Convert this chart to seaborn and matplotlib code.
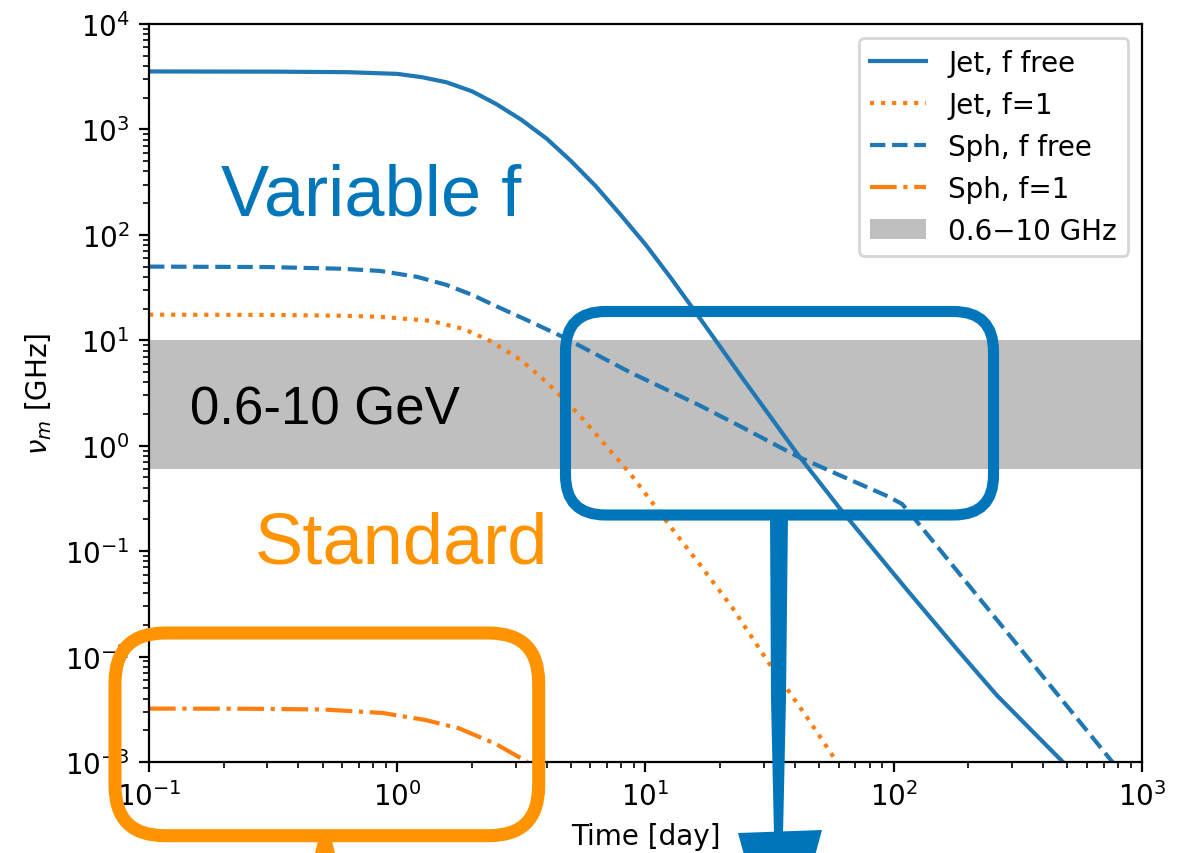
import matplotlib
matplotlib.use("Agg")
import matplotlib.pyplot as plt
from matplotlib.patches import FancyBboxPatch, Polygon
import numpy as np
import seaborn as sns

# ---- curves (time in days, nu_m in GHz) ----
t_jet_free = [0.1, 0.32, 0.63, 1.0, 1.26, 1.58, 2.0, 2.5, 3.16, 4.0, 5.0, 6.3, 7.9,
              10, 12.6, 15.8, 25, 41, 61, 113, 180, 260, 480]
nu_jet_free = [3548, 3532, 3491, 3365, 3126, 2799, 2301, 1746, 1236, 817, 504, 290, 157,
               81, 39.5, 18.9, 4.14, 0.83, 0.25, 0.043, 0.0117, 0.0043, 0.001]

t_jet_f1 = [0.1, 0.3, 0.6, 0.85, 1.36, 1.85, 2.36, 3.12, 4.0, 5.45, 7, 8.7,
            12.7, 16.6, 22.4, 31.5, 45, 59]
nu_jet_f1 = [17.5, 17.4, 17.1, 16.7, 15.3, 12.8, 9.9, 6.6, 4.0, 1.93, 0.97, 0.54,
             0.167, 0.074, 0.029, 0.0086, 0.0026, 0.001]

t_sph_free = [0.1, 0.3, 0.6, 0.85, 1.2, 1.58, 2.0, 2.51, 3.4, 4.67, 6.5, 8.67, 12,
              16.6, 25, 41, 60, 95, 108, 118, 150, 300, 760]
nu_sph_free = [50, 49.5, 47.7, 45.5, 40, 33.5, 27, 21, 15.2, 10.7, 7.1, 4.97, 3.45,
               2.4, 1.46, 0.79, 0.53, 0.33, 0.28, 0.22, 0.11, 0.0148, 0.001]

t_sph_f1 = [0.1, 0.25, 0.5, 0.87, 1.3, 1.77, 2.5, 3.35]
nu_sph_f1 = [0.00321, 0.0032, 0.00315, 0.00292, 0.0025, 0.00209, 0.00148, 0.001]

band_lo, band_hi = 0.6, 10

BLUE = "#0076BA"
ORANGE = "#FF9300"

fig = plt.figure(figsize=(5.935, 4.27), dpi=200)
ax = fig.add_axes([149 / 1187, 1 - 763 / 854, 993 / 1187, 738 / 854])
ax.set_xscale("log")
ax.set_yscale("log")

sns.lineplot(x=t_jet_free, y=nu_jet_free, ax=ax, color="tab:blue", linestyle="-",
             label="Jet, f free", estimator=None)
sns.lineplot(x=t_jet_f1, y=nu_jet_f1, ax=ax, color="tab:orange", linestyle=":",
             label="Jet, f=1", estimator=None)
sns.lineplot(x=t_sph_free, y=nu_sph_free, ax=ax, color="tab:blue", linestyle="--",
             label="Sph, f free", estimator=None)
sns.lineplot(x=t_sph_f1, y=nu_sph_f1, ax=ax, color="tab:orange", linestyle="-.",
             label="Sph, f=1", estimator=None)
ax.axhspan(band_lo, band_hi, color="gray", alpha=0.5, lw=0, label="0.6\u221210 GHz")

ax.set_xlim(0.1, 1000)
ax.set_ylim(1e-3, 1e4)
ax.set_xlabel("Time [day]")
ax.set_ylabel(r"$\nu_m$ [GHz]")
ax.legend(loc="upper right")

# ---- slide annotations on top, in pixel coordinates ----
ov = fig.add_axes([0, 0, 1, 1], zorder=5)
ov.set_xlim(0, 1187)
ov.set_ylim(854, 0)
ov.axis("off")

ov.text(221, 216, "Variable f", fontsize=26, color=BLUE, family="Liberation Sans",
        ha="left", va="baseline")
ov.text(255, 564, "Standard", fontsize=26, color=ORANGE, family="Liberation Sans",
        ha="left", va="baseline")
ov.text(189.5, 425, "0.6-10 GeV", fontsize=19, color="black", family="Liberation Sans",
        ha="left", va="baseline")

ov.add_patch(FancyBboxPatch((565.5, 312.5), 428, 203.5,
                            boxstyle="round,pad=0,rounding_size=40",
                            fill=False, ec=BLUE, lw=4))
ov.add_patch(Polygon([(770, 516), (788, 516), (786, 700), (783, 836), (774, 836), (771, 700)],
                     closed=True, fc=BLUE, ec="none"))
ov.add_patch(Polygon([(738, 834), (822, 831), (780, 985)], closed=True, fc=BLUE, ec="none"))

ov.add_patch(FancyBboxPatch((115, 634), 423.7, 202.7,
                            boxstyle="round,pad=0,rounding_size=50",
                            fill=False, ec=ORANGE, lw=4.7))
ov.add_patch(Polygon([(319, 838), (331, 838), (335, 854), (315, 854)],
                     closed=True, fc=ORANGE, ec="none"))

fig.savefig("out.png", dpi=200)
